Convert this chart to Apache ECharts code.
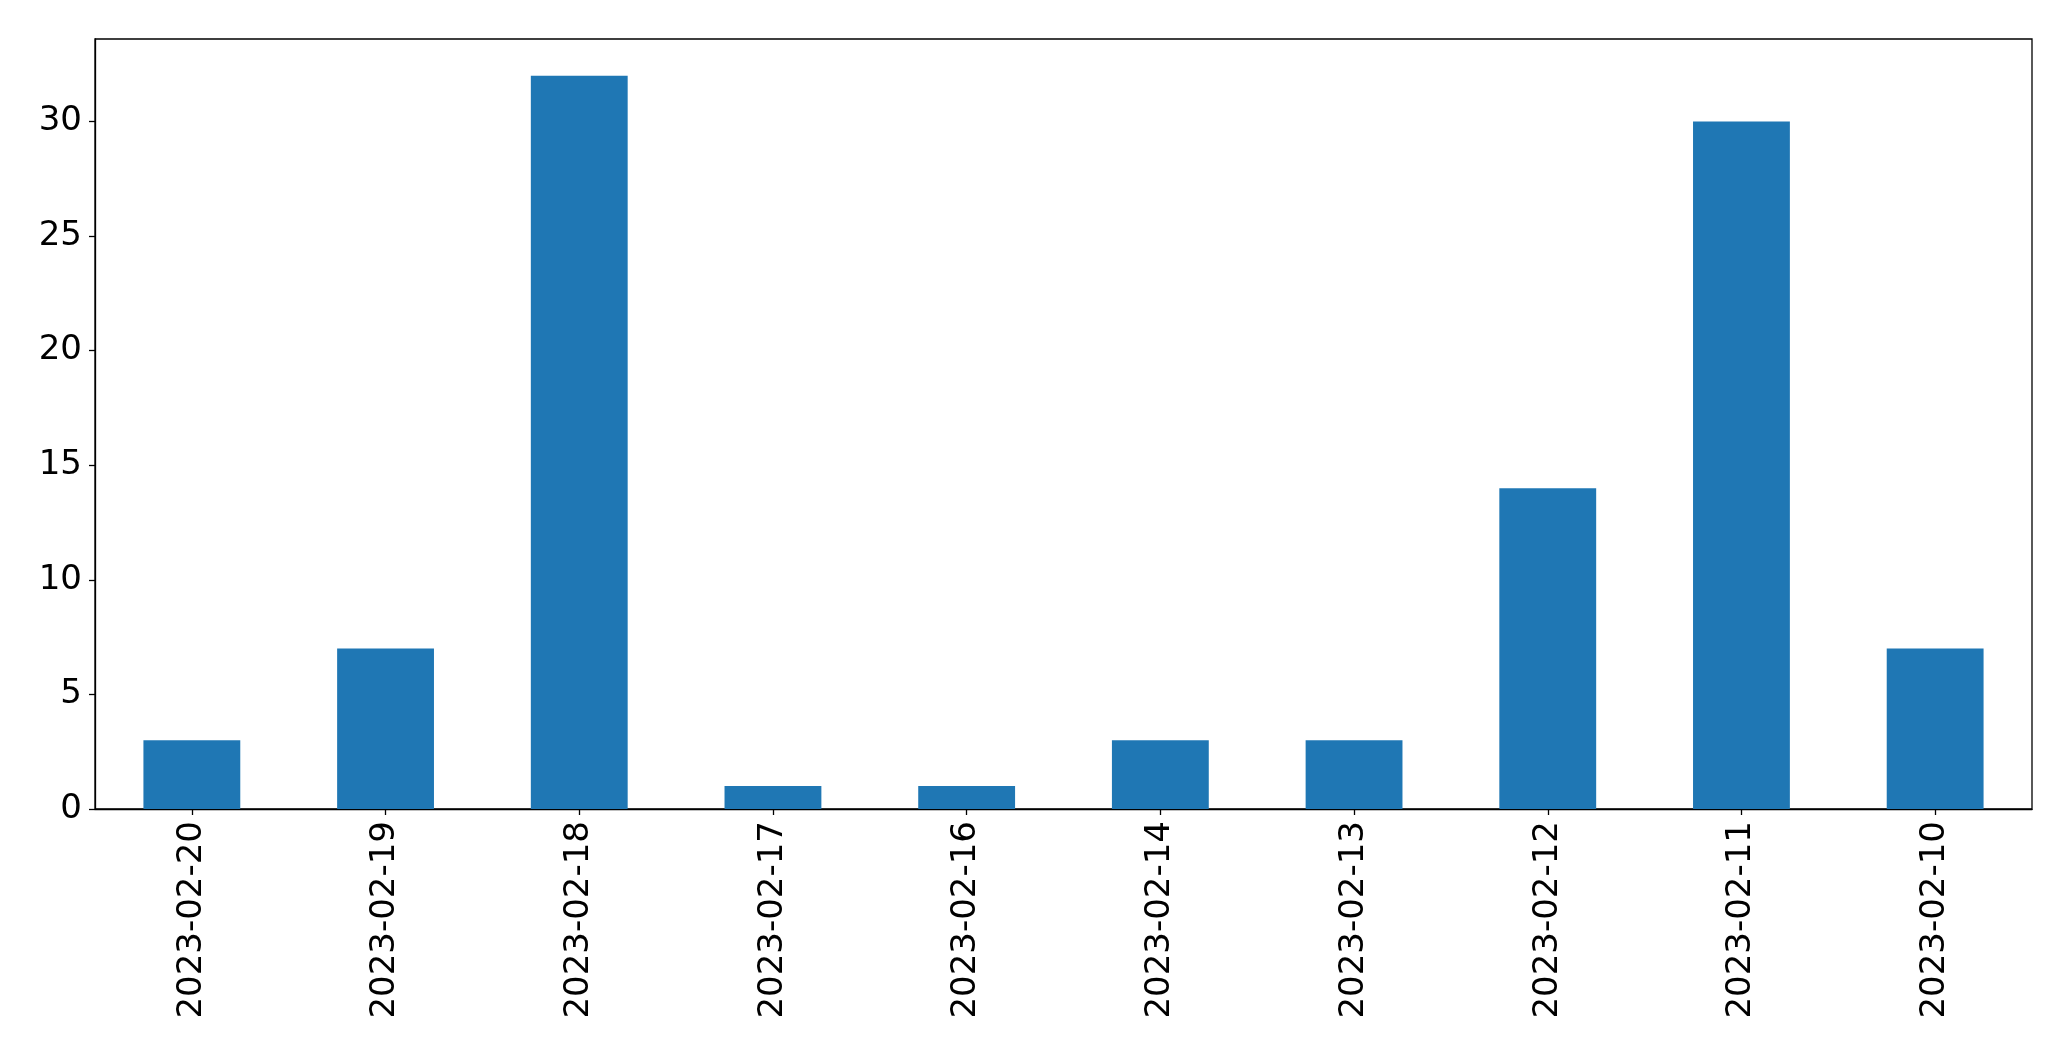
<!DOCTYPE html>
<html>
<head>
<meta charset="utf-8">
<style>
html,body{margin:0;padding:0;background:#fff;}
#chart{width:2071px;height:1061px;}
</style>
<script src="https://cdn.jsdelivr.net/npm/echarts@6/dist/echarts.min.js"></script>
</head>
<body>
<div id="chart"></div>
<script>
const categories = ["2023-02-20","2023-02-19","2023-02-18","2023-02-17","2023-02-16","2023-02-14","2023-02-13","2023-02-12","2023-02-11","2023-02-10"];
const values = [3, 7, 32, 1, 1, 3, 3, 14, 30, 7];
const yTicks = [0, 5, 10, 15, 20, 25, 30];
const yMax = 33.6;

const chart = echarts.init(document.getElementById('chart'), null, {renderer: 'canvas'});
const font = 'DejaVu Sans';
chart.setOption({
  animation: false,
  backgroundColor: '#ffffff',
  grid: {
    left: 95, right: 39, top: 39, bottom: 252,
    show: true, borderColor: '#000', borderWidth: 1.3, backgroundColor: 'transparent'
  },
  xAxis: {
    type: 'category',
    data: categories,
    boundaryGap: true,
    axisLine: {show: true, lineStyle: {color: '#000', width: 1.3}},
    axisTick: {show: true, alignWithLabel: true, length: 6, lineStyle: {color: '#000', width: 1.3}},
    axisLabel: {rotate: 90, margin: 12, color: '#000', fontFamily: font, fontSize: 34, interval: 0},
    splitLine: {show: false}
  },
  yAxis: {
    type: 'value',
    min: 0,
    max: yMax,
    axisLine: {show: true, lineStyle: {color: '#000', width: 1.3}},
    axisTick: {show: true, length: 6, customValues: yTicks, lineStyle: {color: '#000', width: 1.3}},
    axisLabel: {margin: 13, color: '#000', fontFamily: font, fontSize: 34, customValues: yTicks},
    splitLine: {show: false}
  },
  series: [{
    type: 'bar',
    data: values,
    barWidth: '50%',
    itemStyle: {color: '#1f77b4'}
  }]
});
</script>
</body>
</html>
